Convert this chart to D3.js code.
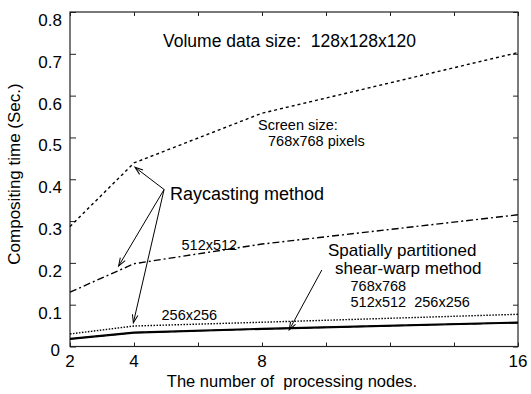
<!DOCTYPE html>
<html>
<head>
<meta charset="utf-8">
<script src="https://cdn.jsdelivr.net/npm/d3@7"></script>
<style>
  body { margin: 0; background: #fff; }
  svg { display: block; font-family: "Liberation Sans", Arial, sans-serif; }
</style>
</head>
<body>
<div id="chart"></div>
<script>
// number of processing nodes (x) and compositing time in seconds (y)
const nodes = [2, 4, 8, 16];
const ray768 = [0.287, 0.439, 0.558, 0.703];
const ray512 = [0.130, 0.198, 0.245, 0.315];
const ray256 = [0.030, 0.049, 0.058, 0.077];
const sw768 = [0.019, 0.034, 0.043, 0.058];
const sw512 = [0.018, 0.033, 0.042, 0.057];
const sw256 = [0.017, 0.032, 0.041, 0.056];

const xLabelTicks = [2, 4, 8, 16];
const xMinorTicks = [2, 4, 6, 8, 10, 12, 14, 16];
const yTicks = [0, 0.1, 0.2, 0.3, 0.4, 0.5, 0.6, 0.7, 0.8];

// arrows, in data units: [fromX, fromY, toX, toY]
const arrows = [
	[4.94, 0.3755, 4.03, 0.4286],
	[4.94, 0.3755, 3.52, 0.1925],
	[4.94, 0.3755, 3.98, 0.0569],
	[9.87, 0.183, 8.85, 0.0395]
];

const width = 531, height = 394;
const margin = {top: 12, right: 13, bottom: 47.5, left: 70};
const w = width - margin.left - margin.right;
const h = height - margin.top - margin.bottom;

const svg = d3.select("#chart").append("svg")
	.attr("width", width)
	.attr("height", height);

const g = svg.append("g")
	.attr("transform", "translate(" + margin.left + "," + margin.top + ")");

const x = d3.scaleLinear().domain([2, 16]).range([0, w]);
const y = d3.scaleLinear().domain([0, 0.8]).range([h, 0]);

// minor ticks all around (inward)
g.append("g").attr("class", "bt")
	.attr("transform", "translate(0," + h + ")")
	.call(d3.axisBottom(x).tickValues(xMinorTicks).tickSize(-4).tickFormat(""));
g.append("g").attr("class", "tt")
	.call(d3.axisTop(x).tickValues(xMinorTicks).tickSize(-4).tickFormat(""));
g.append("g").attr("class", "lt")
	.call(d3.axisLeft(y).tickValues(yTicks).tickSize(-6).tickFormat(""));
g.append("g").attr("class", "rt")
	.attr("transform", "translate(" + w + ",0)")
	.call(d3.axisRight(y).tickValues(yTicks).tickSize(-5).tickFormat(""));
g.selectAll(".bt .domain, .tt .domain, .lt .domain, .rt .domain").remove();
g.selectAll(".tick line").attr("stroke", "#222");

// frame
g.append("rect")
	.attr("width", w).attr("height", h)
	.attr("fill", "none").attr("stroke", "#222").attr("stroke-width", 1.2);

// tick labels
g.selectAll(".xl").data(xLabelTicks).enter().append("text")
	.attr("class", "xl")
	.attr("x", d => x(d))
	.attr("y", h + 20.5)
	.attr("text-anchor", "middle")
	.attr("font-size", 17)
	.text(d => d);

g.selectAll(".yl").data(yTicks).enter().append("text")
	.attr("class", "yl")
	.attr("x", d => d === 0 ? -10 : -8)
	.attr("y", d => y(d) + (d === 0 ? 9.5 : 14))
	.attr("text-anchor", "end")
	.attr("font-size", 17)
	.text(d => d === 0 ? "0" : d3.format(".1f")(d));

// axis titles
svg.append("text")
	.attr("x", 292).attr("y", 387)
	.attr("text-anchor", "middle")
	.attr("font-size", 16.5)
	.attr("xml:space", "preserve")
	.text("The number of  processing nodes.");

svg.append("text")
	.attr("transform", "translate(20,174) rotate(-90)")
	.attr("text-anchor", "middle")
	.attr("font-size", 17)
	.text("Compositing time (Sec.)");

// series
const line = d3.line().x(d => x(d[0])).y(d => y(d[1]));
const series = [
	{vals: sw256, dash: null, sw: 1.1},
	{vals: sw512, dash: "9,4", sw: 1.2},
	{vals: sw768, dash: null, sw: 1.6},
	{vals: ray256, dash: "1.5,1.5", sw: 1.4},
	{vals: ray512, dash: "7,3,2,3", sw: 1.4},
	{vals: ray768, dash: "3,3", sw: 1.4}
];
series.forEach(function(s){
	g.append("path")
		.datum(nodes.map((n, i) => [n, s.vals[i]]))
		.attr("d", line)
		.attr("fill", "none")
		.attr("stroke", "#000")
		.attr("stroke-width", s.sw)
		.attr("stroke-dasharray", s.dash);
});

// arrows
svg.append("defs").append("marker")
	.attr("id", "ah")
	.attr("viewBox", "-10 -5 12 10")
	.attr("refX", 0).attr("refY", 0)
	.attr("markerWidth", 12).attr("markerHeight", 10)
	.attr("markerUnits", "userSpaceOnUse")
	.attr("orient", "auto")
	.append("path")
	.attr("d", "M-8,-2.8 L0,0 L-8,2.8")
	.attr("fill", "none")
	.attr("stroke", "#000")
	.attr("stroke-width", 1);

g.selectAll(".arrow").data(arrows).enter().append("line")
	.attr("class", "arrow")
	.attr("x1", d => x(d[0])).attr("y1", d => y(d[1]))
	.attr("x2", d => x(d[2])).attr("y2", d => y(d[3]))
	.attr("stroke", "#000")
	.attr("stroke-width", 1)
	.attr("marker-end", "url(#ah)");

// annotations
const notes = [
	{t: "Volume data size:  128x128x120", x: 163, y: 47, s: 17.5},
	{t: "Screen size:", x: 258, y: 130, s: 14.5},
	{t: "768x768 pixels", x: 268, y: 145.5, s: 14.5},
	{t: "Raycasting method", x: 170, y: 199.5, s: 18},
	{t: "512x512", x: 181.5, y: 250, s: 14.5},
	{t: "256x256", x: 161.5, y: 320, s: 14.5},
	{t: "Spatially partitioned", x: 328, y: 256, s: 17},
	{t: "shear-warp method", x: 335, y: 273.5, s: 17},
	{t: "768x768", x: 350.5, y: 291, s: 14.5},
	{t: "512x512  256x256", x: 350.5, y: 306.5, s: 14.5}
];
svg.selectAll(".note").data(notes).enter().append("text")
	.attr("class", "note")
	.attr("x", d => d.x).attr("y", d => d.y)
	.attr("font-size", d => d.s)
	.attr("xml:space", "preserve")
	.text(d => d.t);
</script>
</body>
</html>
